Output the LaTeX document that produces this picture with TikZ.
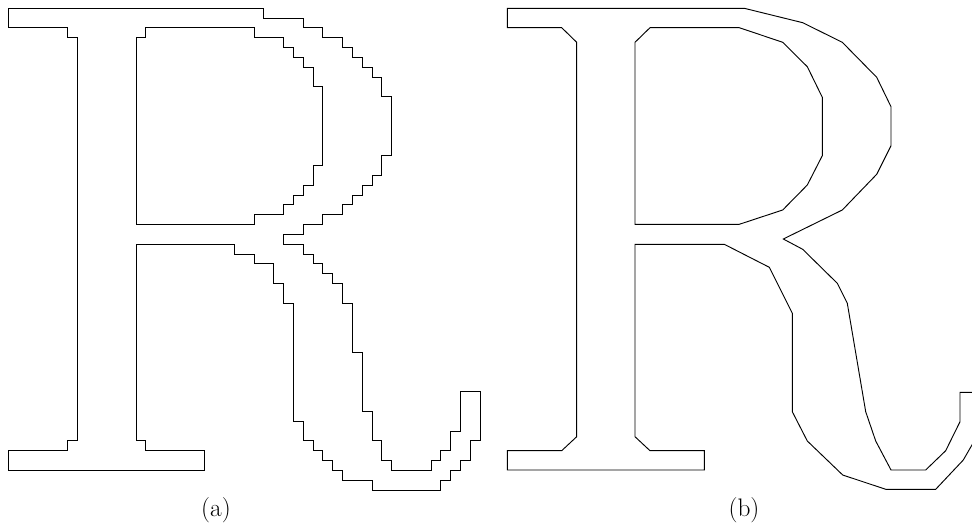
\documentclass[tikz,border=0pt]{standalone}
\begin{document}
\begin{tikzpicture}[x=0.75pt,y=-0.75pt,
  outline/.style={draw=black,line width=0.7pt,line join=miter},
  caption/.style={anchor=base,inner sep=0pt,font=\fontsize{19}{22}\selectfont}]
\useasboundingbox (0,0) rectangle (972,524);
\clip (0,0) rectangle (972,524);
% (a) pixelated R, grid units
\begin{scope}[shift={(8.3,8.3)},x=7.3725pt,y=-7.3725pt]
\draw[outline] (0,0) -- (26,0) -- (26,1) -- (30,1) -- (30,2) -- (32,2) -- (32,3) -- (34,3) -- (34,4)
 -- (35,4) -- (35,5) -- (36,5) -- (36,6) -- (37,6) -- (37,7) -- (38,7) -- (38,9) -- (39,9) -- (39,15)
 -- (38,15) -- (38,17) -- (37,17) -- (37,18) -- (36,18) -- (36,19) -- (35,19) -- (35,20) -- (34,20)
 -- (34,21) -- (32,21) -- (32,22) -- (30,22) -- (30,23) -- (28,23) -- (28,24) -- (30,24) -- (30,25)
 -- (31,25) -- (31,26) -- (32,26) -- (32,27) -- (33,27) -- (33,28) -- (34,28) -- (34,30) -- (35,30)
 -- (35,35) -- (36,35) -- (36,41) -- (37,41) -- (37,44) -- (38,44) -- (38,46) -- (39,46) -- (39,47)
 -- (43,47) -- (43,46) -- (44,46) -- (44,45) -- (45,45) -- (45,43) -- (46,43) -- (46,39) -- (48,39)
 -- (48,44) -- (47,44) -- (47,46) -- (46,46) -- (46,47) -- (45,47) -- (45,48) -- (44,48) -- (44,49)
 -- (37,49) -- (37,48) -- (34,48) -- (34,47) -- (33,47) -- (33,46) -- (32,46) -- (32,45) -- (31,45)
 -- (31,44) -- (30,44) -- (30,42) -- (29,42) -- (29,30) -- (28,30) -- (28,28) -- (27,28) -- (27,26)
 -- (25,26) -- (25,25) -- (23,25) -- (23,24) -- (13,24) -- (13,44) -- (14,44) -- (14,45) -- (20,45)
 -- (20,47) -- (0,47) -- (0,45) -- (6,45) -- (6,44) -- (7,44) -- (7,3) -- (6,3) -- (6,2) -- (0,2) -- cycle;
\draw[outline] (13,3) -- (14,3) -- (14,2) -- (25,2) -- (25,3) -- (28,3) -- (28,4) -- (29,4) -- (29,5)
 -- (30,5) -- (30,6) -- (31,6) -- (31,8) -- (32,8) -- (32,16) -- (31,16) -- (31,18) -- (30,18)
 -- (30,19) -- (29,19) -- (29,20) -- (28,20) -- (28,21) -- (25,21) -- (25,22) -- (13,22) -- cycle;
\end{scope}
% (b) polygonal R, pixel units
\draw[outline] (507.3,8.3) -- (744.3,8.3) -- (802.7,22.7) -- (842.3,42.3) -- (876.7,77.3) -- (891,106.7)
 -- (891,145.7) -- (876.7,174.3) -- (842.3,210) -- (783.3,239) -- (802.7,249.3) -- (837.3,283.3)
 -- (847.3,303.3) -- (865.7,411.7) -- (875.7,441) -- (891,470) -- (925.7,470) -- (945.7,450.7)
 -- (960,421.7) -- (960,392.3) -- (980,392.3) -- (980,431) -- (963.3,460) -- (935.7,489.3)
 -- (885.7,489.3) -- (842.7,475) -- (807.3,441) -- (792.3,411.7) -- (792.3,313.3) -- (769.3,267.3)
 -- (724.3,244.3) -- (635,244.3) -- (635,436.7) -- (650,450.7) -- (704.3,450.7) -- (704.3,470)
 -- (507.3,470) -- (507.3,450.7) -- (561.7,450.7) -- (576.7,436.7) -- (576.7,42.3) -- (561.7,27.7)
 -- (507.3,27.7) -- cycle;
\draw[outline] (650,27.7) -- (739.3,27.7) -- (782.7,42.3) -- (807.3,66.7) -- (822.3,97.3) -- (822.3,155.7)
 -- (807.3,185) -- (782.7,210) -- (739.3,224.3) -- (635,224.3) -- (635,42.3) -- cycle;
% captions
\node[caption] (capa) at (216,516) {(a)};
\node[caption] (capb) at (744,516) {(b)};
\end{tikzpicture}
\end{document}
